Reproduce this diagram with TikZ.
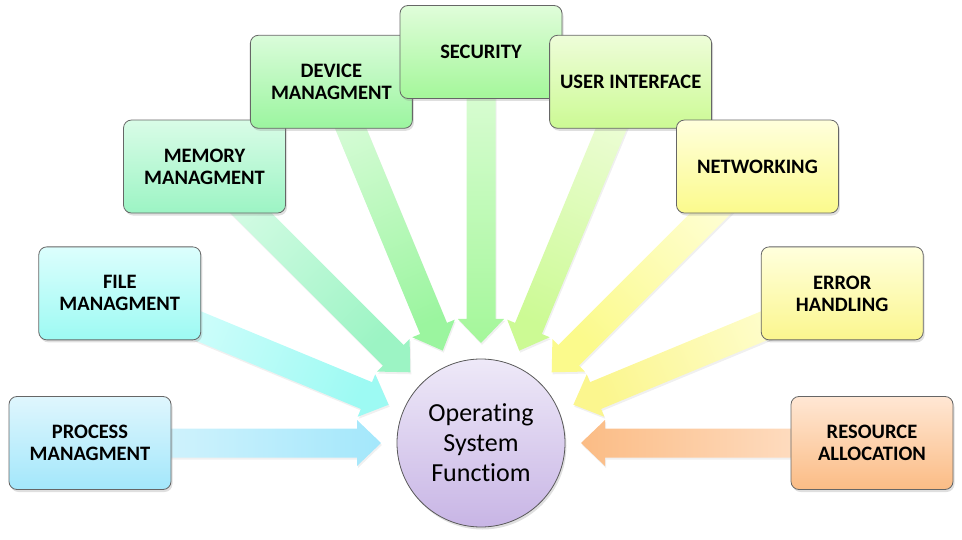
\documentclass[tikz,border=0pt]{standalone}
\usepackage{fontspec}
\setmainfont{Carlito}[Ligatures=NoCommon]
\usetikzlibrary{calc,shadows,backgrounds}

% Farben (oben hell, unten satt)
\definecolor{topprocess}{HTML}{DFF6FD} \definecolor{botprocess}{HTML}{A3E7FB}
\definecolor{topfile}{HTML}{DCFEFD}    \definecolor{botfile}{HTML}{9DFAF3}
\definecolor{topmemory}{HTML}{D9FCE7}  \definecolor{botmemory}{HTML}{9CF4C4}
\definecolor{topdevice}{HTML}{DAFCDA}  \definecolor{botdevice}{HTML}{9BF59F}
\definecolor{topsecurity}{HTML}{E0FDDA} \definecolor{botsecurity}{HTML}{A4F79A}
\definecolor{topuser}{HTML}{EEFDD9}    \definecolor{botuser}{HTML}{CCFA94}
\definecolor{topnetwork}{HTML}{FFFFDC} \definecolor{botnetwork}{HTML}{FBFA8C}
\definecolor{toperror}{HTML}{FFFFDD}   \definecolor{boterror}{HTML}{FBF68E}
\definecolor{topresource}{HTML}{FFE7D4} \definecolor{botresource}{HTML}{FBBC85}
\definecolor{toposf}{HTML}{EEE9F8}     \definecolor{botosf}{HTML}{C8B5E5}

\begin{document}
\begin{tikzpicture}[x=1pt, y=1pt,
        font=\bfseries\fontsize{20.5}{22}\selectfont,
        funcbox/.style={draw=black!60, line width=0.8pt, rounded corners=8pt,
            minimum width=162pt, minimum height=93pt, align=center,
            top color=top#1, bottom color=bot#1,
            drop shadow={opacity=0.25, shadow xshift=1.5pt, shadow yshift=-2.5pt}},
        osfcircle/.style={circle, draw=black!65, line width=0.8pt,
            minimum size=168pt, inner sep=0pt, align=center,
            top color=toposf, bottom color=botosf,
            font=\mdseries\fontsize{26}{30}\selectfont,
            drop shadow={opacity=0.25, shadow xshift=1.5pt, shadow yshift=-2.5pt}},
        funcarrow/.style={drop shadow={opacity=0.12, shadow xshift=1pt, shadow yshift=-2pt}}
        ]
    \useasboundingbox (0,0) rectangle (962,539);

    % Mitte
    \node[osfcircle] (osf) at (481,96) {Operating\\System\\Functiom};

    % Kaesten, im Halbkreis um die Mitte
    \node[funcbox=process]  (process)  at ($(osf)+(180:391)$)   {PROCESS\\MANAGMENT};
    \node[funcbox=file]     (file)     at ($(osf)+(157.5:391)$) {FILE\\MANAGMENT};
    \node[funcbox=memory]   (memory)   at ($(osf)+(135:391)$)   {MEMORY\\MANAGMENT};
    \node[funcbox=device]   (device)   at ($(osf)+(112.5:391)$) {DEVICE\\MANAGMENT};
    \node[funcbox=security] (security) at ($(osf)+(90:391)$)    {SECURITY};
    \node[funcbox=user]     (user)     at ($(osf)+(67.5:391)$)  {USER INTERFACE};
    \node[funcbox=network]  (network)  at ($(osf)+(45:391)$)    {NETWORKING};
    \node[funcbox=error]    (error)    at ($(osf)+(22.5:391)$)  {ERROR\\HANDLING};
    \node[funcbox=resource] (resource) at ($(osf)+(0:391)$)     {RESOURCE\\ALLOCATION};

    % Blockpfeile, hinter den Kaesten
    \begin{scope}[on background layer]
        \foreach \b/\ang in {process/180, file/157.5, memory/135, device/112.5,
                security/90, user/67.5, network/45, error/22.5, resource/0}{
            \pgfmathsetmacro\sang{\ang-90}
            \coordinate (n) at ($(\b.center)!267pt!(osf.center)$);
            \path[funcarrow, top color=top\b, bottom color=bot\b, shading angle=\sang]
                ($(\b.center)!14.5pt!90:(osf.center)$)
                -- ($(n)!14.5pt!90:(osf.center)$)
                -- ($(n)!23pt!90:(osf.center)$)
                -- ($(osf.center)!100pt!(\b.center)$)
                -- ($(n)!23pt!-90:(osf.center)$)
                -- ($(n)!14.5pt!-90:(osf.center)$)
                -- ($(\b.center)!14.5pt!-90:(osf.center)$) -- cycle;
        }
    \end{scope}

\end{tikzpicture}
\end{document}
